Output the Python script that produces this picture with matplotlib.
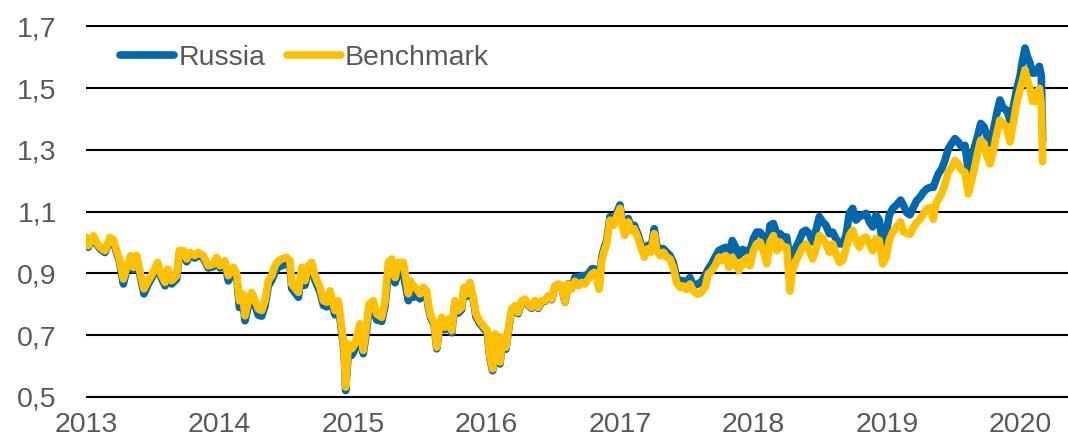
import numpy as np
import matplotlib
matplotlib.use('Agg')
import matplotlib.pyplot as plt

# time in years since 2013-01-01
t_off = [
    0.000, 0.017, 0.055, 0.080, 0.105, 0.142, 0.180, 0.205, 0.225, 0.250,
    0.280, 0.305, 0.335, 0.355, 0.380, 0.405, 0.434, 0.467, 0.504, 0.537,
    0.562, 0.592, 0.612, 0.642, 0.679, 0.699, 0.729, 0.754, 0.779, 0.816,
    0.841, 0.879, 0.916, 0.954, 0.979, 1.004, 1.041, 1.066, 1.104, 1.129,
    1.149, 1.174, 1.191, 1.216, 1.241, 1.266, 1.291, 1.316, 1.341, 1.366,
    1.391, 1.416, 1.441, 1.466, 1.503, 1.528, 1.541, 1.591, 1.616, 1.640,
    1.665, 1.691, 1.715, 1.753, 1.778, 1.803, 1.828, 1.845, 1.865, 1.890,
    1.915, 1.933, 1.945, 1.965, 1.990, 2.015, 2.052, 2.077, 2.103, 2.120,
    2.152, 2.177, 2.215, 2.240, 2.265, 2.290, 2.315, 2.340, 2.377, 2.415,
    2.427, 2.452, 2.477, 2.502, 2.527, 2.552, 2.564, 2.582, 2.607, 2.627,
    2.647, 2.664, 2.689, 2.714, 2.739, 2.764, 2.789, 2.814, 2.831, 2.851,
    2.876, 2.901, 2.921, 2.946, 2.976, 3.006, 3.026, 3.046, 3.066, 3.081,
    3.101, 3.121, 3.146, 3.164, 3.189, 3.213, 3.238, 3.264, 3.288, 3.313,
    3.338, 3.363, 3.388, 3.414, 3.438, 3.463, 3.488, 3.513, 3.538, 3.563,
    3.588, 3.613, 3.638, 3.663, 3.688, 3.713, 3.738, 3.763, 3.788, 3.808,
    3.825, 3.843, 3.863, 3.883, 3.900, 3.925, 3.950, 3.975, 4.000, 4.018,
    4.037, 4.062, 4.082, 4.107, 4.132, 4.157, 4.182, 4.207, 4.232, 4.257,
    4.275, 4.300, 4.325, 4.349, 4.375, 4.399, 4.424, 4.449, 4.474, 4.499,
    4.524, 4.549, 4.582, 4.607, 4.637, 4.661, 4.687, 4.712, 4.742, 4.766,
    4.792, 4.816, 4.841, 4.867, 4.891, 4.919, 4.936, 4.954, 4.974, 4.999,
    5.024, 5.049, 5.074, 5.099, 5.124, 5.149, 5.174, 5.199, 5.224, 5.249,
    5.273, 5.293, 5.318, 5.343, 5.368, 5.393, 5.418, 5.443, 5.468, 5.493,
    5.518, 5.543, 5.568, 5.593, 5.618, 5.643, 5.668, 5.693, 5.718, 5.743,
    5.768, 5.793, 5.818, 5.843, 5.868, 5.893, 5.918, 5.942, 5.968, 5.993,
    6.017, 6.043, 6.072, 6.102, 6.122, 6.148, 6.172, 6.197, 6.222, 6.247,
    6.272, 6.297, 6.322, 6.347, 6.365, 6.385, 6.409, 6.434, 6.459, 6.484,
    6.509, 6.534, 6.559, 6.584, 6.609, 6.627, 6.652, 6.677, 6.702, 6.727,
    6.751, 6.772, 6.797, 6.822, 6.846, 6.871, 6.897, 6.921, 6.946, 6.971,
    6.996, 7.016, 7.034, 7.051, 7.071, 7.091, 7.109, 7.126, 7.141, 7.156,
    7.166,
]

benchmark = [
    1.017, 0.990, 1.022, 1.000, 0.985, 0.974, 1.017, 1.010, 0.980, 0.947,
    0.882, 0.920, 0.958, 0.920, 0.958, 0.904, 0.850, 0.877, 0.904, 0.936,
    0.898, 0.871, 0.914, 0.877, 0.893, 0.974, 0.974, 0.947, 0.968, 0.958,
    0.968, 0.958, 0.925, 0.930, 0.952, 0.925, 0.941, 0.893, 0.920, 0.898,
    0.812, 0.834, 0.763, 0.812, 0.839, 0.812, 0.785, 0.780, 0.812, 0.877,
    0.893, 0.925, 0.941, 0.947, 0.952, 0.941, 0.866, 0.839, 0.920, 0.877,
    0.925, 0.936, 0.893, 0.855, 0.812, 0.807, 0.844, 0.812, 0.780, 0.812,
    0.726, 0.661, 0.532, 0.672, 0.656, 0.672, 0.737, 0.651, 0.737, 0.801,
    0.812, 0.769, 0.758, 0.812, 0.936, 0.947, 0.887, 0.936, 0.936, 0.834,
    0.877, 0.860, 0.850, 0.834, 0.855, 0.844, 0.800, 0.763, 0.742, 0.661,
    0.726, 0.758, 0.726, 0.753, 0.715, 0.812, 0.780, 0.790, 0.855, 0.834,
    0.871, 0.823, 0.769, 0.747, 0.731, 0.715, 0.629, 0.591, 0.704, 0.683,
    0.613, 0.694, 0.661, 0.720, 0.785, 0.796, 0.774, 0.812, 0.817, 0.800,
    0.790, 0.812, 0.790, 0.812, 0.812, 0.828, 0.817, 0.860, 0.866, 0.860,
    0.807, 0.866, 0.850, 0.875, 0.860, 0.871, 0.866, 0.882, 0.898, 0.904,
    0.887, 0.849, 0.942, 0.975, 0.996, 1.073, 1.056, 1.084, 1.111, 1.051,
    1.024, 1.067, 1.040, 1.045, 1.018, 0.985, 0.953, 0.980, 0.969, 1.029,
    0.975, 0.958, 0.969, 0.953, 0.947, 0.920, 0.871, 0.855, 0.860, 0.849,
    0.866, 0.844, 0.833, 0.838, 0.855, 0.898, 0.909, 0.925, 0.953, 0.942,
    0.958, 0.920, 0.953, 0.931, 0.909, 0.940, 0.931, 0.952, 0.925, 0.974,
    0.996, 1.002, 0.974, 0.931, 1.002, 1.023, 0.974, 1.002, 0.985, 0.985,
    0.843, 0.909, 0.942, 0.963, 0.985, 0.996, 0.974, 0.947, 0.980, 1.023,
    1.013, 0.996, 0.969, 0.996, 0.963, 0.936, 0.942, 0.980, 1.023, 1.040,
    1.007, 0.985, 1.013, 1.018, 0.996, 0.974, 1.013, 1.007, 0.931, 0.952,
    1.007, 1.034, 1.051, 1.067, 1.035, 1.030, 1.027, 1.049, 1.065, 1.076,
    1.092, 1.109, 1.114, 1.076, 1.125, 1.141, 1.158, 1.190, 1.228, 1.245,
    1.266, 1.255, 1.234, 1.228, 1.158, 1.190, 1.234, 1.288, 1.332, 1.321,
    1.277, 1.255, 1.299, 1.353, 1.397, 1.386, 1.370, 1.326, 1.386, 1.451,
    1.495, 1.527, 1.560, 1.527, 1.500, 1.457, 1.457, 1.484, 1.500, 1.446,
    1.262,
]

russia = [
    1.012, 0.985, 1.018, 0.995, 0.980, 0.968, 1.012, 1.005, 0.973, 0.940,
    0.866, 0.912, 0.950, 0.912, 0.950, 0.895, 0.834, 0.866, 0.895, 0.928,
    0.888, 0.860, 0.905, 0.866, 0.882, 0.966, 0.965, 0.938, 0.960, 0.950,
    0.960, 0.950, 0.918, 0.922, 0.945, 0.918, 0.932, 0.876, 0.910, 0.888,
    0.790, 0.815, 0.747, 0.795, 0.825, 0.797, 0.765, 0.762, 0.795, 0.860,
    0.878, 0.905, 0.922, 0.925, 0.932, 0.925, 0.852, 0.823, 0.905, 0.862,
    0.910, 0.922, 0.878, 0.840, 0.797, 0.792, 0.830, 0.797, 0.766, 0.798,
    0.712, 0.650, 0.521, 0.645, 0.635, 0.655, 0.705, 0.640, 0.720, 0.785,
    0.790, 0.750, 0.745, 0.795, 0.905, 0.905, 0.870, 0.905, 0.900, 0.812,
    0.861, 0.823, 0.830, 0.818, 0.840, 0.830, 0.790, 0.757, 0.735, 0.656,
    0.718, 0.750, 0.718, 0.745, 0.708, 0.805, 0.772, 0.783, 0.848, 0.826,
    0.862, 0.815, 0.760, 0.740, 0.724, 0.708, 0.622, 0.585, 0.698, 0.677,
    0.607, 0.688, 0.655, 0.714, 0.780, 0.792, 0.770, 0.808, 0.813, 0.797,
    0.787, 0.809, 0.787, 0.809, 0.810, 0.826, 0.815, 0.858, 0.864, 0.860,
    0.807, 0.867, 0.852, 0.888, 0.887, 0.893, 0.893, 0.898, 0.915, 0.915,
    0.900, 0.855, 0.953, 0.985, 1.007, 1.084, 1.067, 1.095, 1.122, 1.062,
    1.040, 1.078, 1.052, 1.056, 1.030, 0.996, 0.965, 0.991, 0.980, 1.045,
    0.988, 0.980, 0.980, 0.969, 0.958, 0.936, 0.887, 0.876, 0.876, 0.871,
    0.887, 0.860, 0.866, 0.871, 0.893, 0.915, 0.931, 0.953, 0.975, 0.980,
    0.985, 0.953, 1.007, 0.985, 0.958, 0.978, 0.969, 0.974, 0.974, 1.013,
    1.034, 1.034, 1.018, 0.974, 1.056, 1.062, 1.029, 1.029, 1.018, 1.018,
    0.942, 0.963, 0.985, 1.007, 1.034, 1.040, 1.029, 1.002, 1.040, 1.084,
    1.067, 1.056, 1.029, 1.034, 1.012, 0.996, 0.996, 1.023, 1.095, 1.111,
    1.073, 1.084, 1.089, 1.095, 1.067, 1.051, 1.089, 1.073, 0.996, 1.029,
    1.089, 1.111, 1.122, 1.138, 1.122, 1.097, 1.090, 1.114, 1.136, 1.147,
    1.163, 1.174, 1.179, 1.179, 1.201, 1.223, 1.239, 1.266, 1.304, 1.321,
    1.337, 1.326, 1.310, 1.315, 1.234, 1.255, 1.304, 1.342, 1.386, 1.375,
    1.342, 1.321, 1.364, 1.418, 1.462, 1.435, 1.429, 1.397, 1.440, 1.495,
    1.538, 1.592, 1.630, 1.603, 1.582, 1.549, 1.549, 1.560, 1.571, 1.540,
    1.330,
]

years = [2013, 2014, 2015, 2016, 2017, 2018, 2019, 2020]
y_ticks = [0.5, 0.7, 0.9, 1.1, 1.3, 1.5, 1.7]

blue = '#0067B1'
yellow = '#FFC000'
grey = '#595959'

plt.rcParams['font.family'] = ['Liberation Sans', 'DejaVu Sans']

W, H = 1068, 442
fig = plt.figure(figsize=(W / 100, H / 100), dpi=100)

# axes placed so that 0.5 -> y=397px, 1.7 -> y=26.5px, 2013 -> x=86px
px_per_year = 133.5
px_per_unit = (397 - 26.5) / 1.2
ylo, yhi = 0.495, 1.705
top_px = 26.5 - (yhi - 1.7) * px_per_unit
bot_px = 397 + (0.5 - ylo) * px_per_unit
left_px = 86
ax = fig.add_axes([left_px / W, 1 - bot_px / H, (W - left_px) / W, (bot_px - top_px) / H])

lw = 5.5
x = 2013 + np.array(t_off)
ax.plot(x, russia, color=blue, lw=lw, solid_joinstyle='round', solid_capstyle='round',
        label='Russia', zorder=3)
ax.plot(x, benchmark, color=yellow, lw=lw, solid_joinstyle='round', solid_capstyle='round',
        label='Benchmark', zorder=4)

ax.set_xlim(2013, 2013 + (W - left_px) / px_per_year)
ax.set_ylim(ylo, yhi)

for yv in y_ticks:
    ax.axhline(yv, color='black', lw=1.5, zorder=1)

ax.set_yticks(y_ticks)
ax.set_yticklabels([f'{v:.1f}'.replace('.', ',') for v in y_ticks])
ax.set_xticks(years)
ax.set_xticklabels([str(y) for y in years])
ax.tick_params(axis='y', length=0, pad=21, labelsize=20.5, labelcolor=grey)
ax.tick_params(axis='x', length=0, pad=10, labelsize=20.5, labelcolor=grey)

for s in ax.spines.values():
    s.set_visible(False)

leg = fig.legend(loc='center left', bbox_to_anchor=(120 / W, 1 - 57.7 / H),
                 ncol=2, frameon=False, fontsize=20.5, handlelength=1.9,
                 handletextpad=0.15, columnspacing=0.75, borderpad=0,
                 borderaxespad=0)
for txt in leg.get_texts():
    txt.set_color(grey)
for line in leg.get_lines():
    line.set_linewidth(lw)
    line.set_solid_capstyle('round')

fig.savefig('out.png', dpi=100)
